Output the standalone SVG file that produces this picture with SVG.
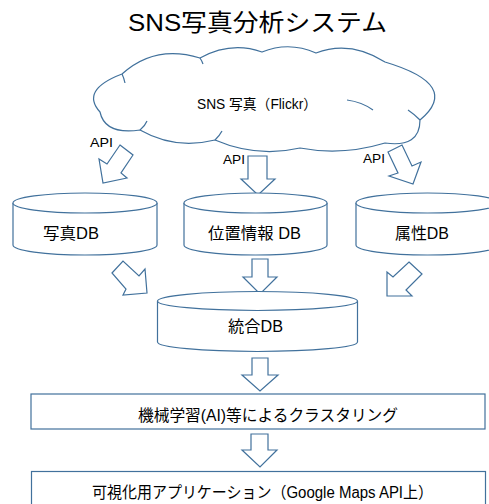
<svg xmlns="http://www.w3.org/2000/svg" width="489" height="504" viewBox="0 0 489 504">
<style>
.s{fill:#fff;stroke:#41719C;stroke-width:1.2}
.l{fill:none;stroke:#41719C;stroke-width:1.2}
.t{font-family:"Liberation Sans","Noto Sans CJK JP",sans-serif;fill:#000}
</style>
<rect width="489" height="504" fill="#fff"/>
<text class="t" x="128" y="31" font-size="24" textLength="259" lengthAdjust="spacingAndGlyphs">SNS写真分析システム</text>

<g id="cloud">
<path class="s" d="M100,112 Q80,90 122,74 Q155,44 200,58 Q231,41 262,52 Q289,41 316,53 Q350,40 385,62 Q462,85 420,120 Q420,148 385,143 Q342,156 300,148 Q257,158 215,140 Q175,150 140,130 Q105,135 100,112 Z"/>
<path class="l" d="M122,74 Q124,78 125,83 M200,58 Q202,61 203,64 M347,100 Q362,102 373,110 M420,120 Q414,114 408,110 M215,140 Q220,135 222,131 M140,130 Q145,126 147,121"/>
<text class="t" x="197" y="109" font-size="14" textLength="120" lengthAdjust="spacingAndGlyphs">SNS 写真（Flickr）</text>
</g>

<g id="connectors">
<polygon class="s" points="120,145 133,155 121,173 127,178 103,183 99,159 107,164"/>
<polygon class="s" points="248,156 267,156 267,179 275,179 258,195 241,179 248,179"/>
<polygon class="s" points="388,152 402,145 412,166 421,162 413,184 389,176 398,173"/>
<polygon class="s" points="112,273 123,261 139,276 145,269 147,293 123,295 126,289"/>
<polygon class="s" points="252,259 268,259 268,277 277,277 260,294 243,277 252,277"/>
<polygon class="s" points="409,262 422,274 406,290 412,296 387,296 387,272 393,277"/>
<polygon class="s" points="252,358 268,358 268,375 278,375 260,391 242,375 252,375"/>
<polygon class="s" points="251,434 268,434 268,450 277,450 260,467 242,450 251,450"/>
<text class="t" x="90" y="147" font-size="13" textLength="23" lengthAdjust="spacingAndGlyphs">API</text>
<text class="t" x="223" y="164" font-size="13" textLength="22" lengthAdjust="spacingAndGlyphs">API</text>
<text class="t" x="363" y="163" font-size="13" textLength="22" lengthAdjust="spacingAndGlyphs">API</text>
</g>

<g id="db-photo">
<path class="s" d="M13,203 L13,245 A72,10 0 0 0 157,245 L157,203"/>
<ellipse class="s" cx="85" cy="203" rx="72" ry="10"/>
<text class="t" x="43" y="239" font-size="16" textLength="56" lengthAdjust="spacingAndGlyphs">写真DB</text>
</g>

<g id="db-location">
<path class="s" d="M184,203 L184,245 A71.5,10 0 0 0 327,245 L327,203"/>
<ellipse class="s" cx="255.5" cy="203" rx="71.5" ry="10"/>
<text class="t" x="208" y="239" font-size="16" textLength="93" lengthAdjust="spacingAndGlyphs">位置情報 DB</text>
</g>

<g id="db-attr">
<path class="s" d="M356,203 L356,245 A71.5,10 0 0 0 499,245 L499,203"/>
<ellipse class="s" cx="427.5" cy="203" rx="71.5" ry="10"/>
<text class="t" x="395" y="239" font-size="16" textLength="54" lengthAdjust="spacingAndGlyphs">属性DB</text>
</g>

<g id="db-integrated">
<path class="s" d="M157.5,301 L157.5,342 A100,9.5 0 0 0 357.5,342 L357.5,301"/>
<ellipse class="s" cx="257.5" cy="301" rx="100" ry="9.5"/>
<text class="t" x="228" y="332" font-size="16" textLength="55" lengthAdjust="spacingAndGlyphs">統合DB</text>
</g>

<g id="clustering">
<rect class="s" x="31" y="394" width="454" height="35"/>
<text class="t" x="138" y="421" font-size="16" textLength="260" lengthAdjust="spacingAndGlyphs">機械学習(AI)等によるクラスタリング</text>
</g>

<g id="app">
<rect class="s" x="31.5" y="471.5" width="454" height="40"/>
<text class="t" x="92" y="498" font-size="16" textLength="341" lengthAdjust="spacingAndGlyphs">可視化用アプリケーション（Google Maps API上）</text>
</g>
</svg>
